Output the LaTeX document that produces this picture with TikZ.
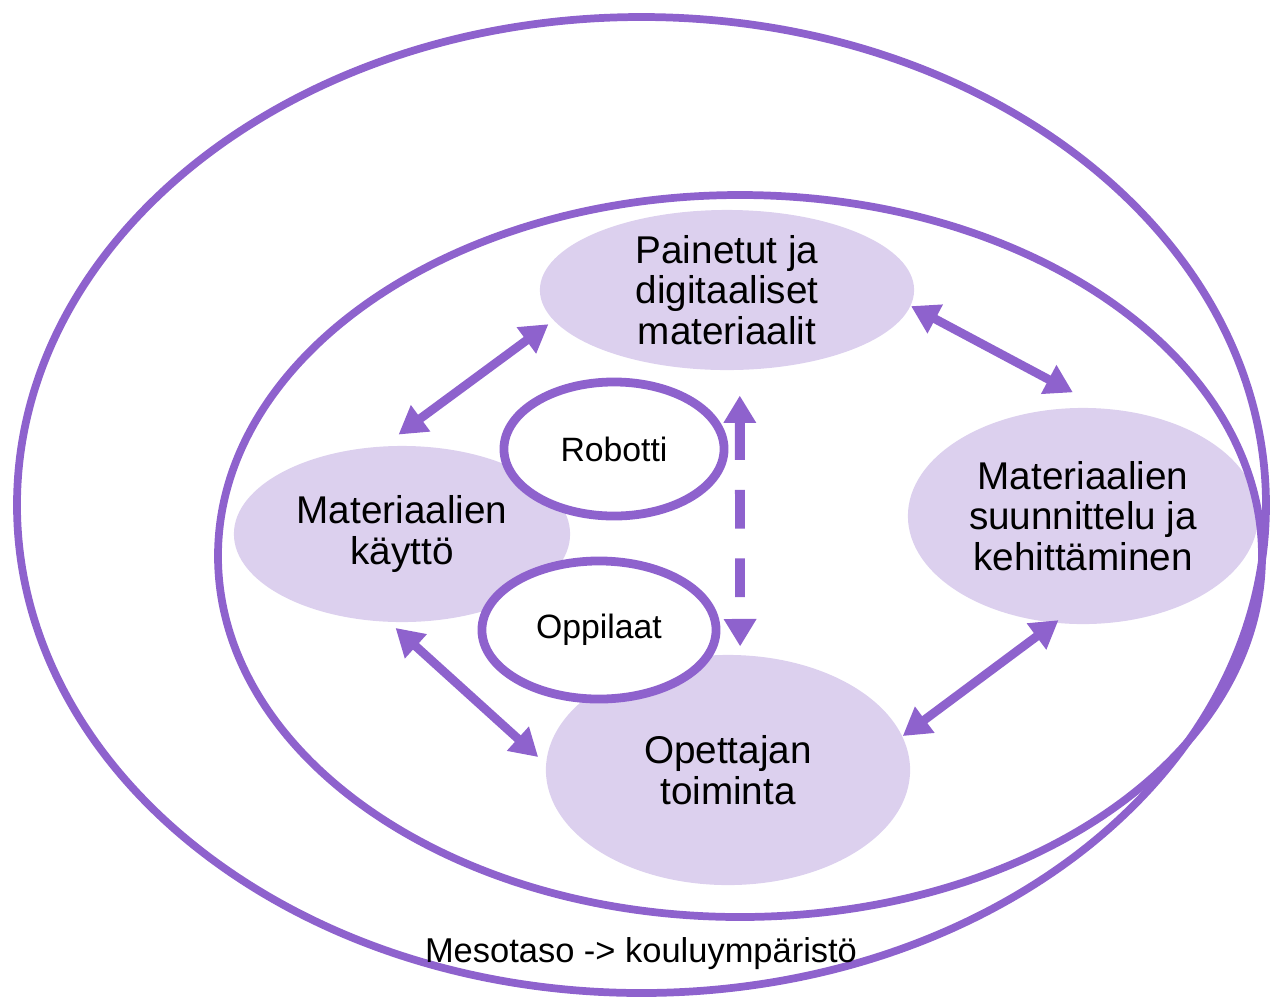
\documentclass[tikz,border=0pt]{standalone}
\usepackage{fontspec}
\setmainfont{Liberation Sans}
\usepackage{tikz}
\usetikzlibrary{positioning,arrows.meta,shapes.geometric}
\definecolor{ringpurple}{RGB}{142,98,205}
\definecolor{bubblefill}{RGB}{220,208,238}

\begin{document}
\begin{tikzpicture}[x=0.01cm,y=-0.01cm,
  bubble/.style={ellipse,fill=bubblefill,draw=none,align=center,inner xsep=0pt,inner ysep=-4pt,font=\fontsize{11}{11.5}\selectfont},
  ring/.style={ellipse,draw=ringpurple,line width=2.5pt,fill=white,align=center,inner sep=0pt,font=\fontsize{9.6}{11}\selectfont},
  dbl/.style={{Triangle[length=7.8pt,width=8.8pt]}-{Triangle[length=7.8pt,width=8.8pt]},draw=ringpurple,line width=2.5pt}]
\useasboundingbox (0,0) rectangle (1275,999);
\node[bubble,minimum width=3.74cm,minimum height=1.6cm] (mat) at (727,290) {Painetut ja\\digitaaliset\\materiaalit};
\node[bubble,minimum width=3.36cm,minimum height=1.76cm] (kay) at (402,534) {Materiaalien\\käyttö};
\node[bubble,minimum width=3.5cm,minimum height=2.16cm] (suun) at (1083,516) {Materiaalien\\suunnittelu ja\\kehittäminen};
\node[bubble,minimum width=3.64cm,minimum height=2.3cm] (ope) at (728,770) {Opettajan\\toiminta};
% tasot
\draw[ringpurple,line width=2.2pt] (641.5,505) ellipse [x radius=624.5,y radius=488];
\draw[ringpurple,line width=2.2pt] (740,556) ellipse [x radius=522,y radius=361];
\node[anchor=base,font=\fontsize{9.8}{11}\selectfont] (meso) at (641,962) {Mesotaso -> kouluympäristö};
% robotti ja oppilaat
\node[ring,minimum width=2.2cm,minimum height=1.34cm] (rob) at (614,449) {Robotti};
\node[ring,minimum width=2.34cm,minimum height=1.38cm] (opp) at (599,630) {Oppilaat};
% nuolet
\draw[dbl,shorten <=1.7pt,shorten >=5.4pt] (mat.190) -- (kay.102);
\draw[dbl,shorten >=9.4pt] (mat.355) -- (suun.80);
\draw[dbl,shorten <=-1.5pt] (suun.255) -- (ope.11);
\draw[dbl,shorten <=2.3pt,shorten >=2.8pt] (kay.262) -- (ope.178);
\draw[dbl,line width=2.8pt,dash pattern=on 11pt off 8.5pt,shorten <=7.1pt,shorten >=2.3pt] (mat.279) -- (ope.84);
\end{tikzpicture}
\end{document}
